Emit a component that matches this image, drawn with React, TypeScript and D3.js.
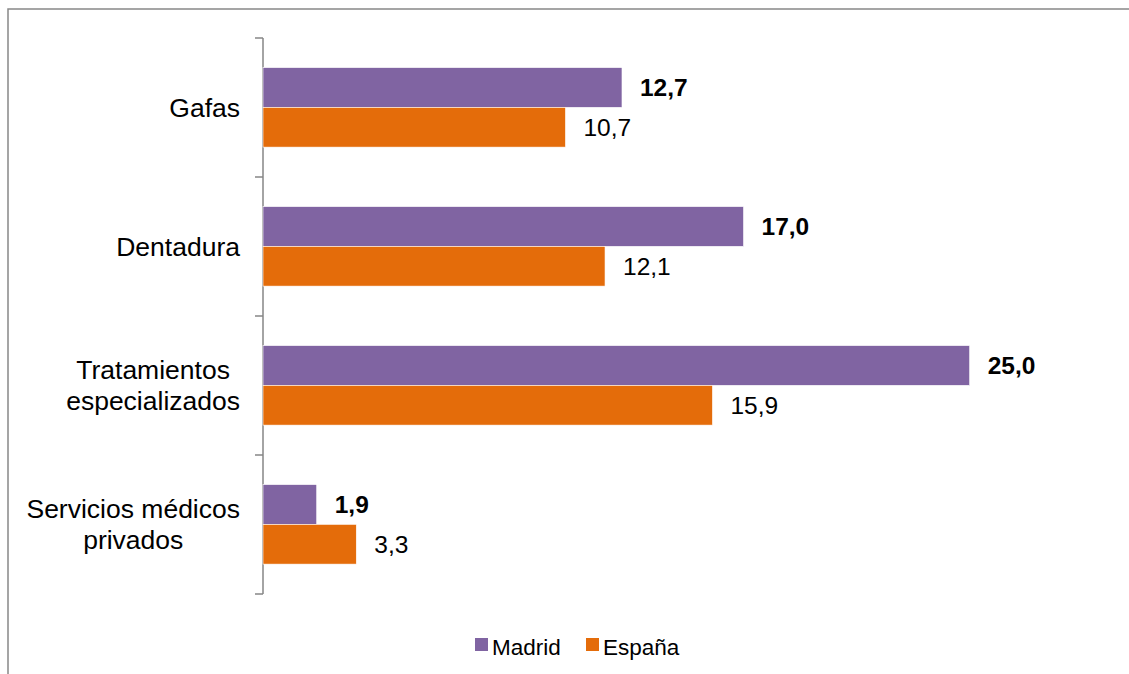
import React from 'react';
import * as d3 from 'd3';

const categories = ['Gafas', 'Dentadura', 'Tratamientos especializados', 'Servicios médicos privados'];
const categoryLines = [['Gafas'], ['Dentadura'], ['Tratamientos', 'especializados'], ['Servicios médicos', 'privados']];
const seriesNames = ['Madrid', 'España'];
const madridValues = [12.7, 17.0, 25.0, 1.9];
const espanaValues = [10.7, 12.1, 15.9, 3.3];

const colors: Record<string, string> = { Madrid: '#8064A2', 'España': '#E46C0A' };
const font = '"Liberation Sans", Arial, sans-serif';
const catFontSize = 26.5;

const width = 1129;
const height = 674;

const fmt = (v: number) => v.toFixed(1).replace('.', ',');

// measure text width so wrapped labels are centred as a block (like Excel)
const measure = (() => {
  const ctx = document.createElement('canvas').getContext('2d');
  return (s: string, size: number) => {
    if (!ctx) return s.length * size * 0.5;
    ctx.font = `${size}px "Liberation Sans", Arial, sans-serif`;
    return ctx.measureText(s).width;
  };
})();

const App: React.FC = () => {
  // scales
  const x = d3.scaleLinear().domain([0, 30]).range([263, 1111]);
  const y = d3.scaleBand<string>().domain(categories).range([38, 594]);
  const bw = y.bandwidth();
  const ySub = d3
    .scaleBand<string>()
    .domain(seriesNames)
    .range([bw * 0.213, bw * 0.785]);

  const rows = categories.map((c, i) => ({
    cat: c,
    lines: categoryLines[i],
    values: [
      { name: 'Madrid', value: madridValues[i] },
      { name: 'España', value: espanaValues[i] },
    ],
  }));

  const ticks = [...categories.map((c) => y(c) as number), 594];

  return (
    <svg
      width={width}
      height={height}
      style={{ position: 'absolute', left: 0, top: 0, background: '#fff' }}
    >
      {/* frame */}
      <rect x={8} y={9} width={1140} height={700} fill="none" stroke="#888" strokeWidth={1.5} />

      {/* axis */}
      <line x1={263} x2={263} y1={38} y2={594} stroke="#868686" strokeWidth={1.5} />
      {ticks.map((t, i) => (
        <line key={i} x1={255} x2={263} y1={t} y2={t} stroke="#868686" strokeWidth={1.5} />
      ))}

      {rows.map((r) => {
        const y0 = y(r.cat) as number;
        const mid = y0 + bw / 2;
        const lh = 31;
        const maxW = Math.max(...r.lines.map((ln) => measure(ln, catFontSize)));
        const cx = 240 - maxW / 2;
        return (
          <g key={r.cat}>
            {r.lines.map((ln, j) => (
              <text
                key={ln}
                x={cx}
                y={mid + (j - (r.lines.length - 1) / 2) * lh}
                dy="0.35em"
                textAnchor="middle"
                fontFamily={font}
                fontSize={catFontSize}
                fill="#000"
              >
                {ln}
              </text>
            ))}
            {r.values.map((d) => {
              const by = y0 + (ySub(d.name) as number);
              const bh = ySub.bandwidth();
              return (
                <g key={d.name}>
                  <rect
                    x={x(0)}
                    y={by}
                    width={x(d.value) - x(0)}
                    height={bh}
                    fill={colors[d.name]}
                    stroke="#fff"
                    strokeWidth={0.6}
                  />
                  <text
                    x={x(d.value) + 18}
                    y={by + bh / 2}
                    dy="0.35em"
                    fontFamily={font}
                    fontSize={24.5}
                    fontWeight={d.name === 'Madrid' ? 'bold' : 'normal'}
                    fill="#000"
                  >
                    {fmt(d.value)}
                  </text>
                </g>
              );
            })}
          </g>
        );
      })}

      {/* legend */}
      <g>
        <rect x={475} y={638} width={13} height={13} fill={colors.Madrid} />
        <text x={492} y={647} dy="0.35em" fontFamily={font} fontSize={22.5} fill="#000">
          Madrid
        </text>
        <rect x={586} y={638} width={13} height={13} fill={colors['España']} />
        <text x={603} y={647} dy="0.35em" fontFamily={font} fontSize={22.5} fill="#000">
          España
        </text>
      </g>
    </svg>
  );
};

export default App;
